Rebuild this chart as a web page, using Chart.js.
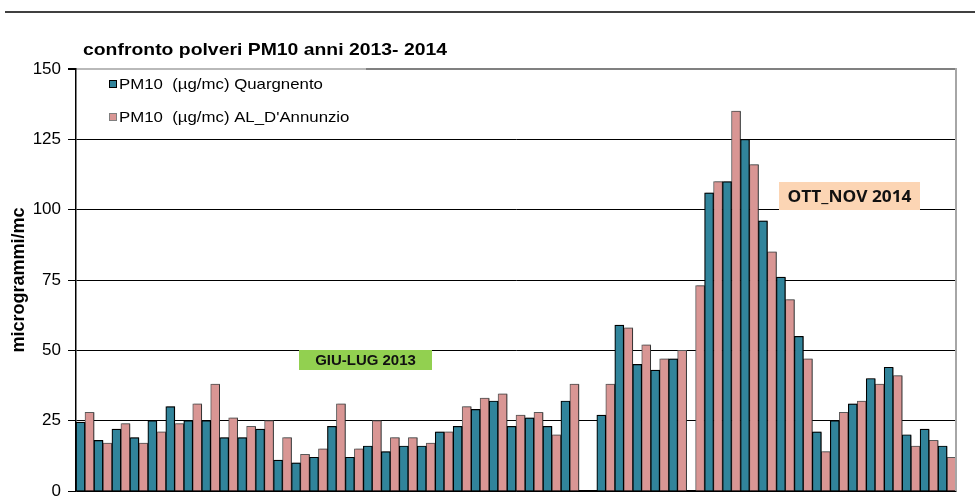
<!DOCTYPE html>
<html>
<head>
<meta charset="utf-8">
<script src="https://cdn.jsdelivr.net/npm/chart.js@4.4.0/dist/chart.umd.min.js"></script>
<style>
  html, body { margin: 0; padding: 0; background: #fff; }
  #wrap { width: 980px; height: 504px; position: relative; }
</style>
</head>
<body>
<div id="wrap"><canvas id="c" width="980" height="504"></canvas></div>
<script>
// ---- data ----
const categories = ['1','2','3','4','5','6','7','8','9','10','11','12','13','14','15','16','17','18','19','20',
  '21','22','23','24','25','26','27','28','29','30','31','32','33','34','35','36','37','38','39','40',
  '41','42','43','44','45','46','47','48','49'];
const quargnento = [24.5, 18, 22, 19, 25, 30, 25, 25, 19, 19, 22, 11, 10, 12, 23, 12, 16, 14, 16, 16,
  21, 23, 29, 32, 23, 26, 23, 32, null, 27, 59, 45, 43, 47, null, 106, 110, 125, 96, 76,
  55, 21, 25, 31, 40, 44, 20, 22, 16];
const dAnnunzio = [28, 17, 24, 17, 21, 24, 31, 38, 26, 23, 25, 19, 13, 15, 31, 15, 25, 19, 19, 17,
  21, 30, 33, 34.5, 27, 28, 20, 38, null, 38, 58, 52, 47, 50, 73, 110, 135, 116, 85, 68,
  47, 14, 28, 32, 38, 41, 16, 18, 12];
const seriesLabels = ['PM10  (\u00b5g/mc) Quargnento', "PM10  (\u00b5g/mc) AL_D'Annunzio"];
const yTicks = [0, 25, 50, 75, 100, 125, 150];
const titleText = 'confronto polveri PM10 anni 2013- 2014';
const yTitle = 'microgrammi/mc';
const notes = [
  { text: 'GIU-LUG 2013', bg: '#92D050' },
  { text: 'OTT_NOV 2014', bg: '#FCD5B4' }
];

const TEAL = '#31849B';
const PINK = '#D99694';

function stretchText(ctx, text, x, y, sx) {
  ctx.save();
  ctx.translate(x, y);
  ctx.scale(sx, 1);
  ctx.fillText(text, 0, 0);
  ctx.restore();
}

const decor = {
  id: 'decor',
  beforeDatasetsDraw(chart) {
    const ctx = chart.ctx;
    ctx.save();
    ctx.shadowColor = 'rgba(0,0,0,0.45)';
    ctx.shadowOffsetX = 1.5;
    ctx.shadowOffsetY = 0;
    ctx.shadowBlur = 0;
  },
  afterDatasetsDraw(chart) {
    const ctx = chart.ctx;
    ctx.restore();
    const a = chart.chartArea;
    ctx.save();
    // right border
    ctx.strokeStyle = '#A6A6A6';
    ctx.lineWidth = 2;
    ctx.beginPath(); ctx.moveTo(a.right, a.top - 1); ctx.lineTo(a.right, a.bottom); ctx.stroke();
    // legend background
    ctx.fillStyle = 'rgba(255,255,255,0.45)';
    ctx.fillRect(a.left + 1, a.top - 1.5, 289, 62);
    // legend entries
    const cols = [TEAL, PINK];
    const rows = [84, 117];
    ctx.font = '15px "Liberation Sans", Arial, sans-serif';
    ctx.textBaseline = 'middle';
    ctx.textAlign = 'left';
    for (let i = 0; i < 2; i++) {
      ctx.fillStyle = cols[i];
      ctx.fillRect(109, rows[i] - 4, 8, 8);
      ctx.strokeStyle = i === 0 ? '#000' : '#7f7f7f';
      ctx.lineWidth = 1;
      ctx.strokeRect(109.5, rows[i] - 3.5, 7, 7);
      ctx.fillStyle = '#000';
      stretchText(ctx, seriesLabels[i], 119, rows[i] + 1, 1.12);
    }
    // annotation boxes
    const boxes = [
      { n: notes[0], x0: 299, x1: 432, y0: 350, y1: 370, sx: 1.07, font: 'bold 14px "Liberation Sans", Arial, sans-serif' },
      { n: notes[1], x0: 779, x1: 920, y0: 182, y1: 210, sx: 1.08, font: 'bold 16px "Open Sans", "Liberation Sans", sans-serif' }
    ];
    for (const b of boxes) {
      ctx.fillStyle = b.n.bg;
      ctx.fillRect(b.x0, b.y0, b.x1 - b.x0, b.y1 - b.y0);
      ctx.fillStyle = '#111';
      ctx.font = b.font;
      ctx.textAlign = 'center';
      ctx.textBaseline = 'middle';
      stretchText(ctx, b.n.text, (b.x0 + b.x1) / 2, (b.y0 + b.y1) / 2 + 1, b.sx);
    }
    ctx.restore();
  },
  afterDraw(chart) {
    const ctx = chart.ctx;
    ctx.save();
    ctx.strokeStyle = '#000';
    ctx.lineWidth = 1.5;
    ctx.beginPath(); ctx.moveTo(5, 12); ctx.lineTo(975, 12); ctx.stroke();
    ctx.fillStyle = '#000';
    ctx.font = 'bold 17px "Liberation Sans", Arial, sans-serif';
    ctx.textAlign = 'left';
    ctx.textBaseline = 'alphabetic';
    stretchText(ctx, titleText, 83, 55, 1.14);
    ctx.restore();
  }
};

new Chart(document.getElementById('c'), {
  type: 'bar',
  data: {
    labels: categories,
    datasets: [
      { label: seriesLabels[0], data: quargnento, backgroundColor: TEAL, borderColor: '#000', borderWidth: 1.2,
        barPercentage: 1.0, categoryPercentage: 1.0 },
      { label: seriesLabels[1], data: dAnnunzio, backgroundColor: PINK, borderColor: '#595959', borderWidth: 1,
        barPercentage: 1.0, categoryPercentage: 1.0 }
    ]
  },
  options: {
    responsive: false,
    animation: false,
    devicePixelRatio: 1,
    layout: { padding: { top: 69, right: 24, bottom: 13, left: 0 } },
    plugins: { legend: { display: false }, title: { display: false }, tooltip: { enabled: false } },
    scales: {
      x: {
        ticks: { display: false },
        grid: { display: false, drawTicks: false },
        border: { display: true, color: '#000', width: 1.5 },
        afterFit(s) { s.height = 0; }
      },
      y: {
        min: 0, max: 150,
        afterBuildTicks(s) { s.ticks = yTicks.map(v => ({ value: v })); },
        afterFit(s) { s.width = 76; s.paddingTop = 0; s.paddingBottom = 0; },
        ticks: { color: '#000', padding: 7, font: { family: '"Liberation Sans", Arial, sans-serif', size: 17 } },
        grid: {
          color: c => (c.tick && c.tick.value === 150) ? '#808080' : '#000',
          lineWidth: c => (c.tick && c.tick.value === 150) ? 2 : 1,
          tickColor: '#000',
          tickLength: 8,
          drawOnChartArea: true
        },
        border: { display: true, color: '#000', width: 1.5 },
        title: { display: true, text: yTitle, color: '#000', padding: { top: 8, bottom: 0 },
          font: { family: '"Liberation Sans", Arial, sans-serif', size: 18, weight: 'bold' } }
      }
    }
  },
  plugins: [decor]
});
</script>
</body>
</html>
